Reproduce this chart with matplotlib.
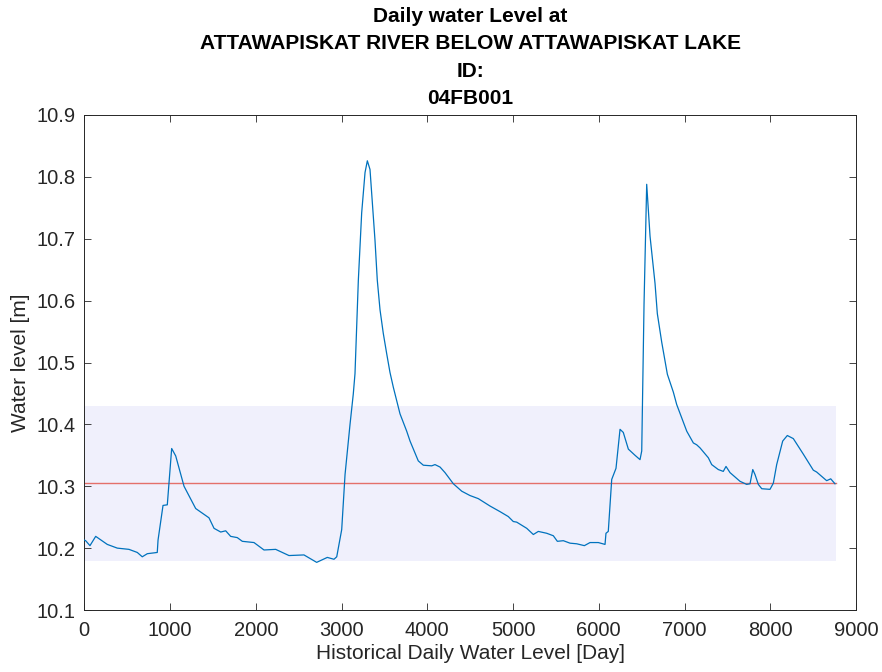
import matplotlib
matplotlib.use("Agg")
import matplotlib.pyplot as plt

# Daily water level (day index, level in m)
days = [0, 16, 66, 133, 268, 385, 521, 618, 676, 735, 793, 851, 860, 918, 968,
        1019, 1066, 1163, 1299, 1454, 1513, 1591, 1649, 1707, 1784, 1843, 1979,
        2096, 2232, 2387, 2562, 2710, 2834, 2912, 2944, 3002, 3041, 3099, 3137,
        3157, 3196, 3235, 3274, 3301, 3332, 3390, 3417, 3449, 3487, 3527, 3565,
        3604, 3682, 3760,
        3799, 3895, 3954, 4052, 4090, 4149, 4207, 4304, 4402, 4498, 4595, 4732,
        4848, 4945, 5003, 5043, 5160, 5237, 5295, 5393, 5470, 5517, 5587, 5665,
        5743, 5832, 5898, 5995, 6073, 6084, 6111, 6151, 6201, 6248, 6286, 6345,
        6423, 6481, 6501, 6528, 6559, 6598, 6656, 6683, 6734, 6800, 6870, 6909,
        7026, 7103,
        7142, 7181, 7278, 7317, 7394, 7452, 7484, 7531, 7647, 7725, 7764, 7796,
        7822, 7861, 7901, 7997, 8036, 8075, 8145, 8199, 8269, 8385, 8502, 8541,
        8658, 8705, 8755]
level = [10.213, 10.212, 10.204, 10.219, 10.206, 10.200, 10.198, 10.193, 10.186,
         10.191, 10.192, 10.193, 10.213, 10.269, 10.270, 10.361, 10.349, 10.300,
         10.264, 10.249, 10.232, 10.226, 10.228, 10.219, 10.217, 10.211, 10.209,
         10.197, 10.198, 10.188, 10.189, 10.177, 10.185, 10.182, 10.186, 10.230,
         10.319, 10.400, 10.449, 10.482, 10.633, 10.742, 10.807, 10.826, 10.812,
         10.698, 10.633, 10.585, 10.547, 10.514, 10.484, 10.460, 10.417, 10.389,
         10.373, 10.341, 10.334,
         10.333, 10.335, 10.331, 10.322, 10.304, 10.292, 10.285, 10.280, 10.268,
         10.259, 10.251, 10.243, 10.242, 10.232, 10.222, 10.227, 10.224, 10.220,
         10.211, 10.212, 10.208, 10.207, 10.204, 10.209, 10.209, 10.206, 10.224,
         10.227, 10.311, 10.329, 10.392, 10.387, 10.360, 10.350, 10.343, 10.357,
         10.595, 10.788, 10.704, 10.628, 10.579, 10.533, 10.481, 10.452, 10.432,
         10.389, 10.370,
         10.367, 10.362, 10.346, 10.335, 10.327, 10.324, 10.332, 10.322, 10.308,
         10.303, 10.304, 10.327, 10.319, 10.303, 10.296, 10.295, 10.305, 10.335,
         10.373, 10.382, 10.377, 10.352, 10.326, 10.323, 10.309, 10.312, 10.304]

mean_level = 10.305
band_low = 10.179
band_high = 10.429
n_days = 8766

title_lines = ["Daily water Level at",
               "ATTAWAPISKAT RIVER BELOW ATTAWAPISKAT LAKE",
               "ID:",
               "04FB001"]
x_ticks = [0, 1000, 2000, 3000, 4000, 5000, 6000, 7000, 8000, 9000]
y_ticks = [10.1, 10.2, 10.3, 10.4, 10.5, 10.6, 10.7, 10.8, 10.9]

plt.rcParams['font.family'] = ['Liberation Sans', 'DejaVu Sans']

fig = plt.figure(figsize=(8.82, 6.72), dpi=100)
ax = fig.add_axes([84.3 / 882, 1 - 610 / 672, (856 - 84.3) / 882, (610 - 115) / 672])

ax.fill_between([0, n_days], [band_low, band_low], [band_high, band_high],
                color='#F0F0FC', linewidth=0, zorder=1)
ax.plot([0, n_days], [mean_level, mean_level], color='#E4706A', linewidth=1.0, zorder=2)
ax.plot(days, level, color='#0072BD', linewidth=0.9, zorder=3)

ax.set_xlim(0, 9000)
ax.set_ylim(10.1, 10.9)
ax.set_xticks(x_ticks)
ax.set_yticks(y_ticks)
ax.set_xticklabels([str(t) for t in x_ticks])
ax.set_yticklabels([f"{t:.1f}" for t in y_ticks])
ax.tick_params(direction='in', top=True, right=True, length=5, width=0.6,
               labelsize=14.5, colors='#262626')
ax.tick_params(axis='x', pad=8)
ax.tick_params(axis='y', pad=6)
for s in ax.spines.values():
    s.set_color('#262626')
    s.set_linewidth(0.7)

ax.set_xlabel("Historical Daily Water Level [Day]", fontsize=15, color='#262626', labelpad=3)
ax.set_ylabel("Water level [m]", fontsize=15, color='#262626', labelpad=5)
ax.set_title("\n".join(title_lines), fontsize=15, fontweight='bold',
             linespacing=1.55, pad=8)

fig.savefig("out.png", dpi=100)
